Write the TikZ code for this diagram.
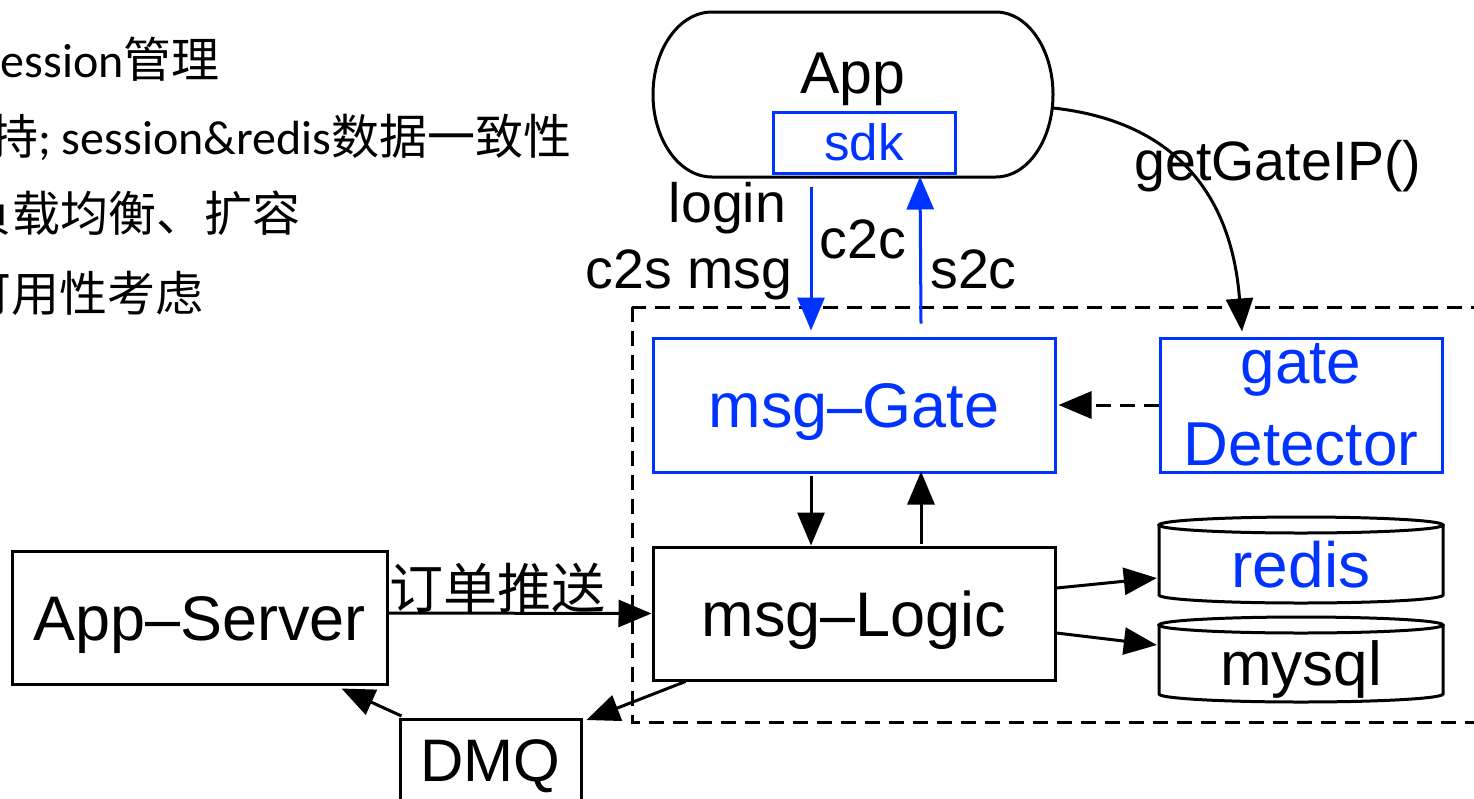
\documentclass[tikz,border=0pt]{standalone}
\usepackage{fontspec}
\setmainfont{Liberation Sans}
\newfontfamily\cjkfont{Noto Sans CJK SC}
\newfontfamily\leftlat{Carlito}
\usetikzlibrary{arrows.meta,calc}
\definecolor{myblue}{RGB}{0,51,255}
\begin{document}
\begin{tikzpicture}[x=1pt,y=-1pt,
  lw/.style={line width=3pt},
  box/.style={draw, line width=3pt, rectangle, inner sep=0pt, font=\fontsize{63}{75}\selectfont, text height=45pt, text depth=0pt},
  bluebox/.style={box, draw=myblue, text=myblue},
  plain/.style={inner sep=0pt, font=\fontsize{62}{74}\selectfont, text height=44pt, text depth=0pt},
  lbl/.style={inner sep=0pt, font=\fontsize{55.5}{66}\selectfont, anchor=base},
  lefttxt/.style={inner sep=0pt, font=\fontsize{48}{58}\selectfont\cjkfont, anchor=base west},
  arr/.style={line width=3pt, -{Triangle[length=33pt,width=27pt]}},
  barr/.style={arr, draw=myblue},
  dsh/.style={dash pattern=on 15pt off 9pt}
]
\useasboundingbox (0,0) rectangle (1474,798);
\clip (0,0) rectangle (1474,798);

% left notes
\node[lefttxt] (l1) at (-18,77) {{\leftlat session}管理};
\node[lefttxt] (l2) at (-10,154) {持{\leftlat ; session\&redis}数据一致性};
\node[lefttxt] (l3) at (-36,231) {负载均衡、扩容};
\node[lefttxt] (l4) at (-37,311) {可用性考虑};

% dashed frame
\draw[lw, dsh] (632,307) rectangle (1520,722);

% App
\draw[lw] (712,12) -- (996,12) arc[start angle=-90,end angle=90,x radius=57,y radius=82.5]
  -- (712,177) arc[start angle=90,end angle=270,x radius=59,y radius=82.5] -- cycle;
\node[minimum width=400pt, minimum height=165pt, inner sep=0pt] (app) at (853,94.5) {};
\node[plain, font=\fontsize{59}{70}\selectfont, text height=43pt] (apptext) at (853,71.5) {App};
\node[bluebox, font=\fontsize{51}{60}\selectfont, text height=36pt, minimum width=182pt, minimum height=61pt] (sdk) at (864,142.5) {sdk};

% boxes
\node[bluebox, minimum width=402pt, minimum height=134pt] (gate) at (854,405) {msg–Gate};
\node[box, minimum width=402pt, minimum height=133pt] (logic) at (854,613.5) {msg–Logic};
\node[box, minimum width=375pt, minimum height=133pt] (appserver) at (199.5,617.5) {App–Server};
\node[bluebox, minimum width=282pt, minimum height=134pt] (gatedet) at (1301,405) {};
\node[plain, text=myblue, anchor=base] (gd1) at (1301,383) {gate};
\node[plain, text=myblue, anchor=base] (gd2) at (1301,465) {Detector};
\node[box, font=\fontsize{60}{72}\selectfont, text height=43pt, minimum width=181pt, minimum height=112pt, text depth=31pt, anchor=north] (dmq) at (490.5,718) {DMQ};

% cylinders
\node[minimum width=284pt, minimum height=86pt, inner sep=0pt] (redis) at (1301,560) {};
\draw[lw] (1159,525) -- (1159,595) arc[start angle=180,end angle=0,x radius=142,y radius=8] -- (1443,525);
\draw[lw] (1301,525) ellipse [x radius=142, y radius=8];
\node[plain, font=\fontsize{64}{76}\selectfont, text height=45pt, text=myblue] (redistext) at ([yshift=-4.5pt]redis.center) {redis};

\node[minimum width=284pt, minimum height=85pt, inner sep=0pt] (mysql) at (1301,659.5) {};
\draw[lw] (1159,625) -- (1159,694) arc[start angle=180,end angle=0,x radius=142,y radius=8] -- (1443,625);
\draw[lw] (1301,625) ellipse [x radius=142, y radius=8];
\node[plain] (mysqltext) at ([yshift=-4pt]mysql.center) {mysql};

% connectors
\draw[barr] ([xshift=-53pt,yshift=-12pt]sdk.south) -- ([xshift=-43pt,yshift=6pt]gate.north);
\draw[barr] ([xshift=67pt,yshift=13pt]gate.north) -- ([xshift=56pt,yshift=-2pt]sdk.south);
\node[lbl] (login) at (727.5,222) {login};
\node[lbl] (c2s) at (689,288) {c2s msg};
\node[lbl] (c2c) at (863,258) {c2c};
\node[lbl] (s2c) at (973.5,288) {s2c};

\draw[arr] ([yshift=-13.5pt]app.east) .. controls (1180,122) and (1232,200) .. ([xshift=-59pt,yshift=5pt]gatedet.north);
\node[lbl] (getip) at (1278,180) {getGateIP()};

\draw[arr, dsh] (gatedet.west) -- ([xshift=2pt]gate.east);

\draw[arr] ([xshift=-43pt,yshift=-2pt]gate.south) -- ([xshift=-43pt]logic.north);
\draw[arr] ([xshift=67pt,yshift=2pt]logic.north) -- ([xshift=67pt,yshift=2pt]gate.south);

\draw[arr] ([yshift=25.5pt]logic.east) -- ([xshift=-2pt,yshift=-18pt]redis.west);
\draw[arr] ([yshift=-19.5pt]logic.east) -- ([xshift=-2pt,yshift=14.5pt]mysql.west);

\draw[arr] ([yshift=4.5pt]appserver.east) -- (logic.west);
\node[lbl, font=\fontsize{54}{64}\selectfont\cjkfont] (push) at (497,608) {订单推送};

\draw[arr] ([xshift=34pt]logic.south west) -- ([xshift=4pt,yshift=-2pt]dmq.north east);
\draw[arr] ([xshift=3pt,yshift=2pt]dmq.north west) -- ([xshift=-47pt,yshift=-3pt]appserver.south east);
\end{tikzpicture}
\end{document}
